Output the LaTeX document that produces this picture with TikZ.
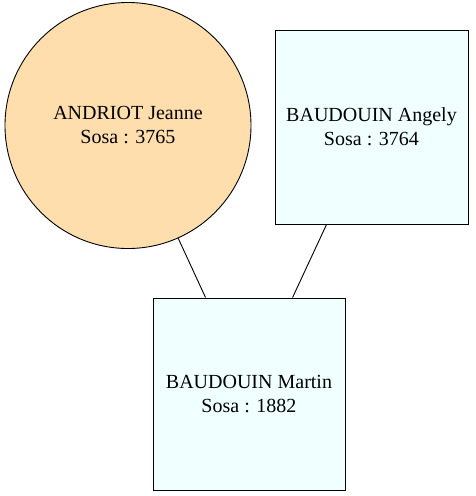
\documentclass[tikz,border=0pt]{standalone}
\usepackage{fontspec}
\setmainfont{Liberation Serif}
\usetikzlibrary{calc}
\definecolor{personF}{HTML}{FFDEAD}
\definecolor{personM}{HTML}{F0FFFF}
\tikzset{
  person/.style={draw=black, line width=0.9pt, align=center, inner sep=0pt,
    font=\fontsize{20}{24}\selectfont},
  female/.style={person, circle, fill=personF, minimum size=246pt},
  male/.style={person, rectangle, fill=personM},
  link/.style={draw=black, line width=0.9pt}
}
\begin{document}
\begin{tikzpicture}[x=1pt,y=-1pt]
\useasboundingbox (0,0) rectangle (475,496);
\node[female] (jeanne) at (128,125.5) {ANDRIOT Jeanne\\Sosa : 3765};
\node[male, minimum width=193pt, minimum height=194pt] (angely) at (371.5,127) {BAUDOUIN Angely\\Sosa : 3764};
\node[male, minimum width=192pt, minimum height=192pt] (martin) at (249,394) {BAUDOUIN Martin\\Sosa : 1882};
\coordinate (m1) at ($(martin.north west)+(53,0)$);
\coordinate (m2) at ($(martin.north west)+(140,0)$);
\coordinate (a1) at ($(angely.south west)+(52,0)$);
\draw[link] (jeanne.-66) -- (m1);
\draw[link] (a1) -- (m2);
\end{tikzpicture}
\end{document}
